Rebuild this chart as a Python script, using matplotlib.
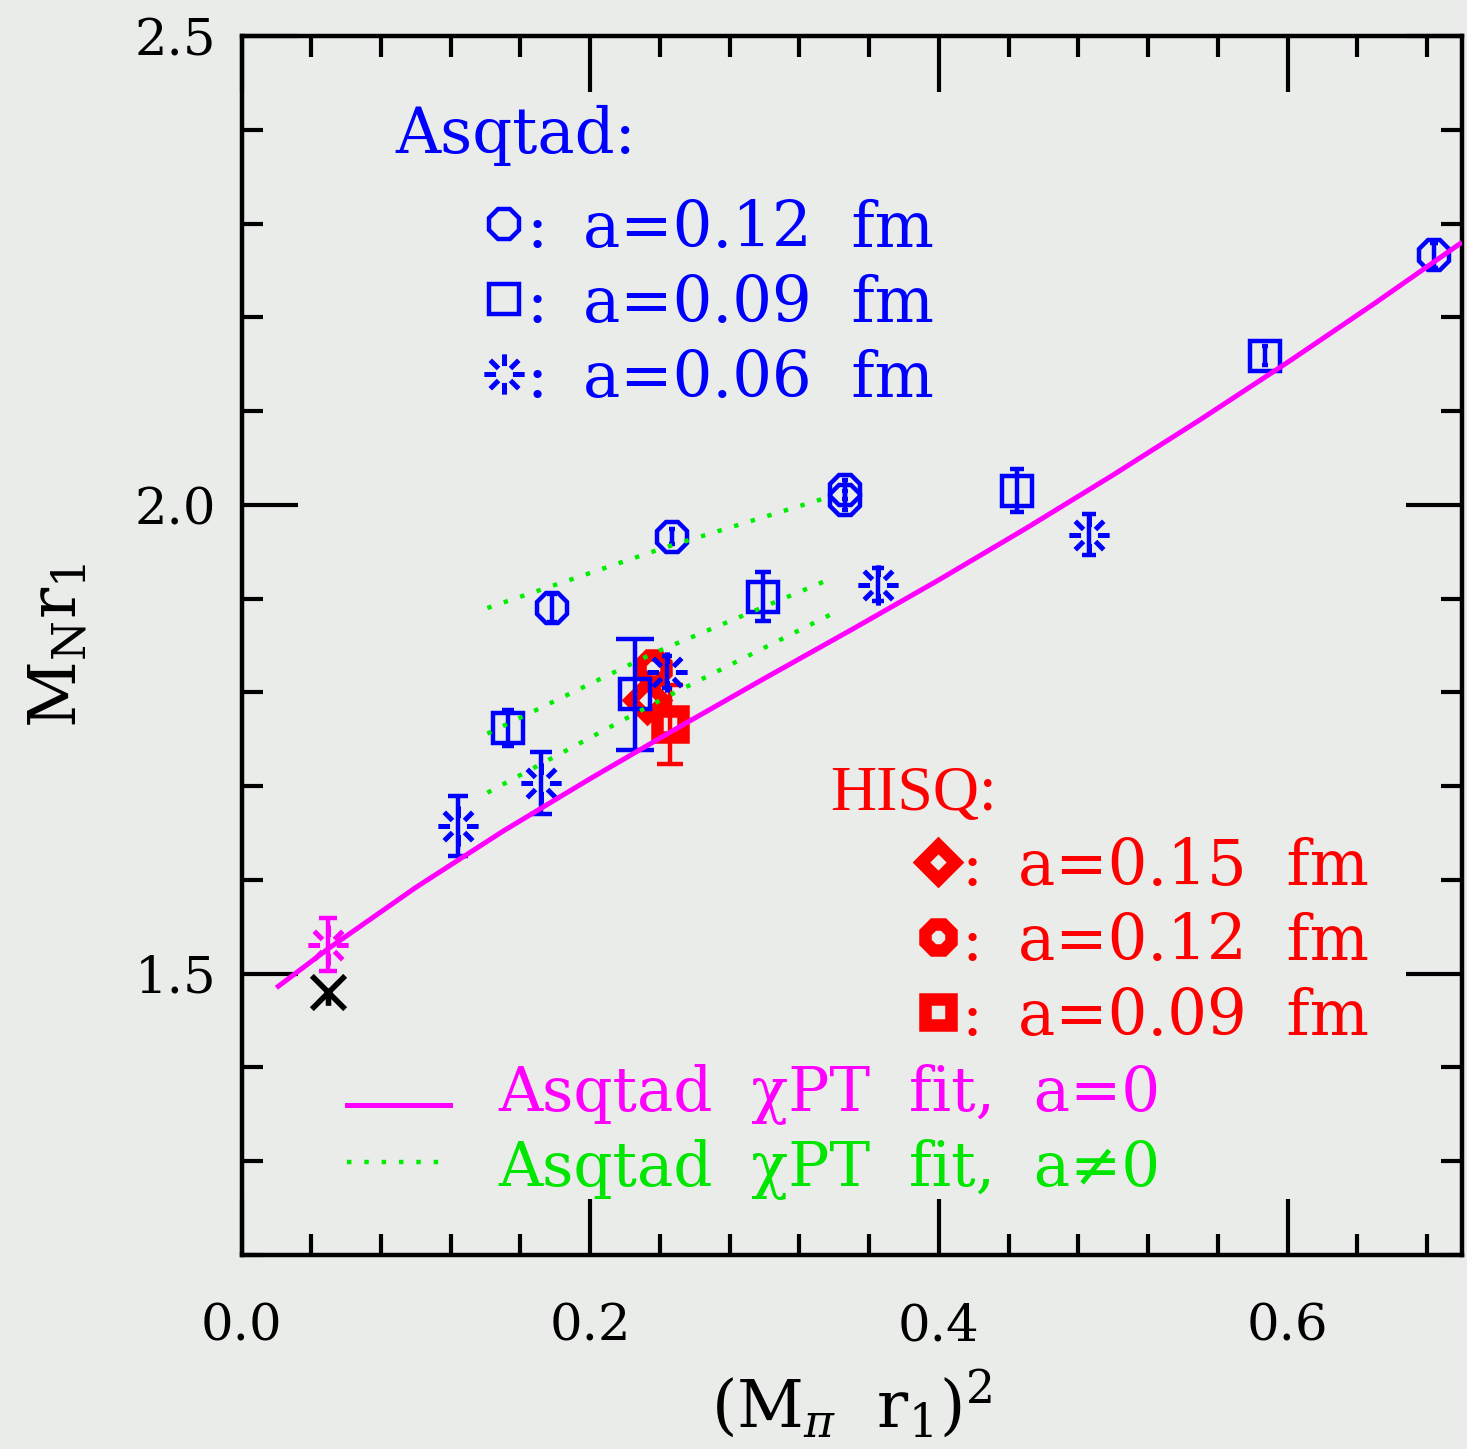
#!/usr/bin/env python3
# nucleon mass vs pion mass squared, r1 units
import numpy as np
import matplotlib
matplotlib.use("Agg")
import matplotlib.pyplot as plt
from matplotlib.path import Path

plt.rcParams["font.family"] = ["DejaVu Serif"]
plt.rcParams["mathtext.fontset"] = "dejavuserif"

# ---------- data ----------
# Asqtad a=0.12 fm (octagons)
asq12_x = [0.178, 0.247, 0.346, 0.346, 0.684]
asq12_y = [1.890, 1.966, 2.016, 2.005, 2.266]
asq12_e = [0.015, 0.008, 0.010, 0.010, 0.013]
# Asqtad a=0.09 fm (squares)
asq09_x = [0.153, 0.2256, 0.299, 0.4446, 0.587]
asq09_y = [1.762, 1.798, 1.902, 2.015, 2.159]
asq09_e = [0.019, 0.059, 0.026, 0.023, 0.010]
# Asqtad a=0.06 fm (bursts)
asq06_x = [0.1244, 0.172, 0.244, 0.365, 0.486]
asq06_y = [1.658, 1.703, 1.822, 1.915, 1.968]
asq06_e = [0.032, 0.033, 0.017, 0.018, 0.022]
# HISQ
hisq15_x, hisq15_y = [0.2326], [1.792]
hisq12_x, hisq12_y = [0.236], [1.826]
hisq09_x, hisq09_y, hisq09_e = [0.2457], [1.766], [0.042]
# physical point (extrapolation) and experiment
phys_x, phys_y, phys_e = [0.0497], [1.531], [0.028]
expt_x, expt_y = [0.0497], [1.480]
# chiral fit, a=0
fit0_x = [0.02, 0.05, 0.10, 0.15, 0.20, 0.25, 0.30, 0.35, 0.40, 0.45, 0.50, 0.55, 0.60, 0.65, 0.70]
fit0_y = [1.485, 1.527, 1.592, 1.652, 1.708, 1.762, 1.815, 1.867, 1.920, 1.975, 2.032, 2.091,
          2.152, 2.215, 2.280]
# chiral fits, a != 0
fit12_x = [0.141, 0.242, 0.338]
fit12_y = [1.890, 1.954, 2.009]
fit09_x = [0.141, 0.2365, 0.3364]
fit09_y = [1.756, 1.842, 1.920]
fit06_x = [0.141, 0.2445, 0.340]
fit06_y = [1.693, 1.796, 1.885]

BLUE, RED, MAG, GRN, GRNT = "#0000ff", "#ff0000", "#ff00ff", "#00ee00", "#00e600"
BG = "#eaecea"

# burst marker: 8 short rays with a gap in the middle
_v, _c = [], []
for k in range(8):
    a = k * np.pi / 4
    _v += [(0.42 * np.cos(a), 0.42 * np.sin(a)), (np.cos(a), np.sin(a))]
    _c += [Path.MOVETO, Path.LINETO]
BURST = Path(_v, _c)
# experiment marker: X with a short stub downward
STAR = Path([(-1, 1), (1, -1), (1, 1), (-1, -1), (0, 0), (0, -0.8)],
            [Path.MOVETO, Path.LINETO, Path.MOVETO, Path.LINETO, Path.MOVETO, Path.LINETO])

fig = plt.figure(figsize=(14.67, 14.49), dpi=100, facecolor=BG)
ax = fig.add_axes([241.5 / 1467, 1 - 1255 / 1449, 1220.5 / 1467, 1219 / 1449])
ax.set_facecolor(BG)


def bars(xs, ys, es, color, z):
    # cap width grows with the error, as in the original plot
    for x, y, e in zip(xs, ys, es):
        half_cap_pt = 640 * e / 2 * 0.72
        ax.errorbar([x], [y], yerr=[e], fmt="none", ecolor=color, elinewidth=3.2,
                    capsize=half_cap_pt, capthick=3.2, zorder=z)


OCT = dict(marker="8", ms=24, mew=3.2, mfc="none")
SQR = dict(marker="s", ms=21, mew=3.2, mfc="none")
BST = dict(marker=BURST, ms=29, mew=3.6, mfc="none")

# HISQ (drawn first, lies under the rest)
bars(hisq09_x, hisq09_y, hisq09_e, RED, 2)
ax.plot(hisq15_x, hisq15_y, ls="none", marker="D", ms=17, mew=9, mfc="none", mec=RED, zorder=2)
ax.plot(hisq12_x, hisq12_y, ls="none", marker="8", ms=20, mew=9, mfc="none", mec=RED, zorder=2)
ax.plot(hisq09_x, hisq09_y, ls="none", marker="s", ms=19, mew=9, mfc="none", mec=RED, zorder=2)

# Asqtad
bars(asq12_x, asq12_y, asq12_e, BLUE, 3)
bars(asq09_x, asq09_y, asq09_e, BLUE, 3)
bars(asq06_x, asq06_y, asq06_e, BLUE, 3)
ax.plot(asq12_x, asq12_y, ls="none", mec=BLUE, zorder=3, **OCT)
ax.plot(asq09_x, asq09_y, ls="none", mec=BLUE, zorder=3, **SQR)
ax.plot(asq06_x, asq06_y, ls="none", mec=BLUE, zorder=3, **BST)

# physical point + experiment
bars(phys_x, phys_y, phys_e, MAG, 3)
ax.plot(phys_x, phys_y, ls="none", mec=MAG, zorder=3, **BST)
ax.plot(expt_x, expt_y, ls="none", marker=STAR, ms=24, mew=4, mfc="none", mec="black", zorder=3)

# fits
ax.plot(fit0_x, fit0_y, color=MAG, lw=3.6, zorder=4, solid_capstyle="butt", solid_joinstyle="round")
for fx, fy in [(fit12_x, fit12_y), (fit09_x, fit09_y), (fit06_x, fit06_y)]:
    ax.plot(fx, fy, color=GRN, lw=3.2, ls=(0, (1, 2.9)), zorder=5)

ax.set_xlim(0, 0.7)
ax.set_ylim(1.2, 2.5)
ax.set_xticks([0.0, 0.2, 0.4, 0.6])
ax.set_xticks(np.arange(0, 0.701, 0.04), minor=True)
ax.set_yticks([1.5, 2.0, 2.5])
ax.set_yticks(np.arange(1.2, 2.501, 0.1), minor=True)
ax.set_xticklabels(["0.0", "0.2", "0.4", "0.6"])
ax.set_yticklabels(["1.5", "2.0", "2.5"])
ax.tick_params(which="both", direction="in", top=True, right=True, width=3, color="black")
ax.tick_params(which="major", length=40, labelsize=37)
ax.tick_params(which="minor", length=15)
ax.tick_params(axis="x", which="major", pad=34)
ax.tick_params(axis="y", which="major", pad=18)
for sp in ax.spines.values():
    sp.set_linewidth(3.2)

ax.set_xlabel(r"$(\mathrm{M}_\pi\ \ \mathrm{r}_1)^2$", fontsize=47)
ax.xaxis.set_label_coords(0.5, -0.093)
ax.set_ylabel(r"$\mathrm{M}_\mathrm{N}\mathrm{r}_1$", fontsize=47)
ax.yaxis.set_label_coords(-0.124, 0.5)


# ---------- legend block, axes-fraction coordinates ----------
def fx(px):
    return (px - 241.5) / 1220.5


def fy(py):
    return (1255 - py) / 1219


T = ax.transAxes
ax.text(fx(395), fy(153), "Asqtad:", color=BLUE, fontsize=45, va="baseline", transform=T)
asq_rows = [(OCT, "a=0.12  fm"), (SQR, "a=0.09  fm"), (BST, "a=0.06  fm")]
for i, (st, lab) in enumerate(asq_rows):
    yb = 247 + 75 * i
    ax.plot([fx(504)], [fy(yb - 23)], ls="none", mec=BLUE, transform=T, clip_on=False, **st)
    ax.text(fx(537), fy(yb), ":", color=BLUE, fontsize=45, ha="center", va="baseline", transform=T)
    ax.text(fx(583), fy(yb), lab, color=BLUE, fontsize=45, va="baseline", transform=T)

ax.text(fx(830), fy(810), "HISQ:", color=RED, fontsize=46, va="baseline", transform=T,
        family="Liberation Serif")
hisq_rows = [("D", 17, "a=0.15  fm"), ("8", 20, "a=0.12  fm"), ("s", 19, "a=0.09  fm")]
for i, (m, ms, lab) in enumerate(hisq_rows):
    yb = 885 + 75 * i
    ax.plot([fx(938)], [fy(yb - 23)], ls="none", marker=m, ms=ms, mew=9, mfc="none",
            mec=RED, transform=T, clip_on=False)
    ax.text(fx(972), fy(yb), ":", color=RED, fontsize=45, ha="center", va="baseline", transform=T)
    ax.text(fx(1018), fy(yb), lab, color=RED, fontsize=45, va="baseline", transform=T)

ax.plot([fx(347), fx(450)], [fy(1105), fy(1105)], color=MAG, lw=3.6, transform=T)
ax.text(fx(498), fy(1110), "Asqtad  χPT  fit,  a=0", color=MAG, fontsize=44,
        va="baseline", transform=T)
ax.plot([fx(347), fx(445)], [fy(1162), fy(1162)], color=GRN, lw=3.2, ls=(0, (1, 2.9)), transform=T)
ax.text(fx(498), fy(1185), "Asqtad  χPT  fit,  a≠0", color=GRNT, fontsize=44,
        va="baseline", transform=T)

fig.savefig("out.png", dpi=100, facecolor=BG)
